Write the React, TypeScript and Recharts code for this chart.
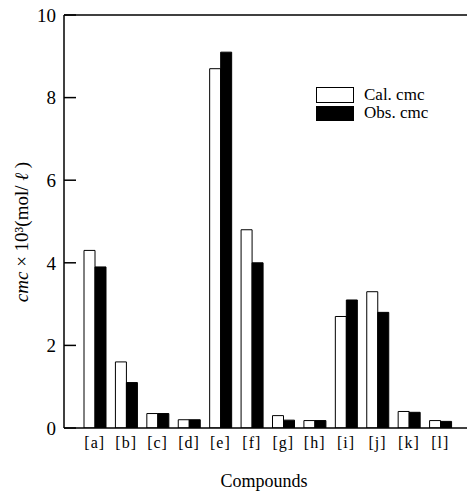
import React from 'react';
import { BarChart, Bar, XAxis, YAxis, Legend, ReferenceLine, Customized } from 'recharts';

const categories = ['[a]', '[b]', '[c]', '[d]', '[e]', '[f]', '[g]', '[h]', '[i]', '[j]', '[k]', '[l]'];
const calCmc = [4.3, 1.6, 0.35, 0.2, 8.7, 4.8, 0.3, 0.18, 2.7, 3.3, 0.4, 0.18];
const obsCmc = [3.9, 1.1, 0.35, 0.2, 9.1, 4.0, 0.19, 0.18, 3.1, 2.8, 0.38, 0.16];
const yTicks = [0, 2, 4, 6, 8, 10];

const data = categories.map((c, i) => ({ name: c, cal: calCmc[i], obs: obsCmc[i] }));

const FONT = "'Liberation Serif', serif";

const LegendContent = () => (
  <div style={{ fontFamily: FONT, fontSize: 17, color: '#000', lineHeight: '18px' }}>
    <div style={{ display: 'flex', alignItems: 'center', height: 18 }}>
      <div style={{ width: 36, height: 14, border: '1px solid #000', background: '#fff', marginRight: 10 }} />
      <span>Cal. cmc</span>
    </div>
    <div style={{ display: 'flex', alignItems: 'center', height: 18 }}>
      <div style={{ width: 38, height: 15, background: '#000', marginRight: 10 }} />
      <span>Obs. cmc</span>
    </div>
  </div>
);

const ExtraText = () => (
  <g>
    <text
      x={21}
      y={232}
      transform="rotate(-90 21 232)"
      textAnchor="middle"
      dominantBaseline="central"
      style={{ fontFamily: FONT }}
      fontSize={19}
      fill="#000"
    >
      <tspan fontStyle="italic">cmc</tspan>
      <tspan> × 10³(mol/ </tspan>
      <tspan fontStyle="italic">ℓ</tspan>
      <tspan> )</tspan>
    </text>
    <text x={264} y={487} textAnchor="middle" style={{ fontFamily: FONT }} fontSize={18} fill="#000">
      Compounds
    </text>
  </g>
);

export default function App() {
  return (
    <div style={{ position: 'absolute', left: 0, top: 0, width: 467, height: 491, background: '#fff', fontFamily: FONT }}>
      <BarChart
        width={467}
        height={491}
        data={data}
        margin={{ top: 15, right: 0, bottom: 0, left: 0 }}
        barGap={0}
        barSize={11}
        style={{ fontFamily: FONT }}
      >
        <XAxis
          dataKey="name"
          height={63}
          padding={{ left: 15, right: 11 }}
          axisLine={{ stroke: '#000', strokeWidth: 1.5 }}
          tickLine={false}
          tickSize={0}
          tickMargin={9}
          interval={0}
          tick={{ fill: '#000', fontSize: 16, letterSpacing: 1 }}
        />
        <YAxis
          width={64}
          domain={[0, 10]}
          ticks={yTicks}
          interval={0}
          allowDataOverflow
          axisLine={{ stroke: '#000', strokeWidth: 1.5 }}
          tickLine={{ stroke: '#000', strokeWidth: 1.5 }}
          tickSize={-12}
          tickMargin={20}
          tick={{ fill: '#000', fontSize: 19 }}
        />
        <ReferenceLine y={10} stroke="#000" strokeWidth={1.5} ifOverflow="extendDomain" />
        <Legend
          content={<LegendContent />}
          layout="vertical"
          verticalAlign="middle"
          align="center"
          wrapperStyle={{ left: 316, top: 86, width: 150, height: 36 }}
        />
        <Bar dataKey="cal" name="Cal. cmc" fill="#fff" stroke="#000" strokeWidth={1} isAnimationActive={false} />
        <Bar dataKey="obs" name="Obs. cmc" fill="#000" stroke="#000" strokeWidth={1} isAnimationActive={false} />
        <Customized component={<ExtraText />} />
      </BarChart>
    </div>
  );
}
